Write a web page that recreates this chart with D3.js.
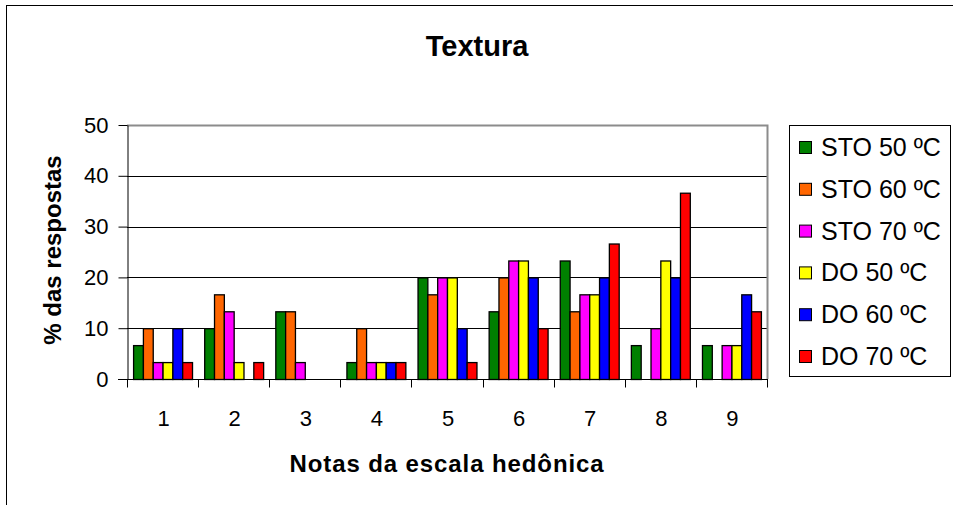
<!DOCTYPE html>
<html>
<head>
<meta charset="utf-8">
<script src="https://cdn.jsdelivr.net/npm/d3@7"></script>
<style>
  html, body { margin: 0; padding: 0; background: #fff; }
  svg { display: block; font-family: "Liberation Sans", Arial, sans-serif; }
</style>
</head>
<body>
<svg id="chart" width="953" height="505"></svg>
<script>
// Hedonic scale scores (1..9) and % of responses per drying treatment
const categories = ["1", "2", "3", "4", "5", "6", "7", "8", "9"];
const seriesNames = ["STO 50 ºC", "STO 60 ºC", "STO 70 ºC", "DO 50 ºC", "DO 60 ºC", "DO 70 ºC"];
const seriesColors = ["#008000", "#FF6600", "#FF00FF", "#FFFF00", "#0000FF", "#FF0000"];
const sto50 = [6.67, 10, 13.33, 3.33, 20, 13.33, 23.33, 6.67, 6.67];
const sto60 = [10, 16.67, 13.33, 10, 16.67, 20, 13.33, 0, 0];
const sto70 = [3.33, 13.33, 3.33, 3.33, 20, 23.33, 16.67, 10, 6.67];
const do50  = [3.33, 3.33, 0, 3.33, 20, 23.33, 16.67, 23.33, 6.67];
const do60  = [10, 0, 0, 3.33, 10, 20, 20, 20, 16.67];
const do70  = [3.33, 3.33, 0, 3.33, 3.33, 10, 26.67, 36.67, 13.33];
const seriesValues = [sto50, sto60, sto70, do50, do60, do70];
const yTicks = [0, 10, 20, 30, 40, 50];

const svg = d3.select("#chart");

// Outer chart frame
svg.append("rect")
  .attr("x", 6.5).attr("y", 5.5)
  .attr("width", 960).attr("height", 520)
  .attr("fill", "none").attr("stroke", "#000").attr("stroke-width", 1);

const plot = { left: 127, right: 767, top: 125, bottom: 379 };

const x0 = d3.scaleBand().domain(categories).range([plot.left, plot.right]).paddingInner(0).paddingOuter(0);
const x1 = d3.scaleBand().domain(seriesNames).range([0, x0.bandwidth()]).paddingOuter(0.62).paddingInner(0);
const y = d3.scaleLinear().domain([0, 50]).range([plot.bottom, plot.top]);

// Gridlines
svg.append("g")
  .selectAll("line")
  .data(yTicks.filter(t => t > 0 && t < 50))
  .join("line")
  .attr("x1", plot.left).attr("x2", plot.right)
  .attr("y1", d => Math.round(y(d)) + 0.5).attr("y2", d => Math.round(y(d)) + 0.5)
  .attr("stroke", "#000").attr("stroke-width", 1);

// Plot frame (top and right)
svg.append("path")
  .attr("d", `M${plot.left},${plot.top + 0.5}H${plot.right + 0.5}V${plot.bottom}`)
  .attr("fill", "none").attr("stroke", "#8c8c8c").attr("stroke-width", 2);

// Bars
const rows = categories.map((c, i) => ({
  cat: c,
  vals: seriesNames.map((s, j) => ({ s, v: seriesValues[j][i], color: seriesColors[j] }))
}));

svg.append("g")
  .selectAll("g")
  .data(rows)
  .join("g")
  .attr("transform", d => `translate(${x0(d.cat)},0)`)
  .selectAll("rect")
  .data(d => d.vals.filter(e => e.v > 0))
  .join("rect")
  .attr("x", d => x1(d.s) + 0.5)
  .attr("y", d => y(d.v) + 0.5)
  .attr("width", x1.bandwidth())
  .attr("height", d => y(0) - y(d.v))
  .attr("fill", d => d.color)
  .attr("stroke", "#000").attr("stroke-width", 1.3);

// Y axis
const yAxis = svg.append("g")
  .attr("transform", `translate(${plot.left + 0.5},0)`)
  .call(d3.axisLeft(y).tickValues(yTicks).tickSize(9).tickSizeOuter(0).tickPadding(10));
yAxis.select(".domain").attr("stroke", "#000");
yAxis.selectAll(".tick line").attr("stroke", "#000");
yAxis.selectAll("text").attr("font-size", 22).attr("fill", "#000")
  .attr("font-family", "Liberation Sans, Arial, sans-serif");

// X axis: ticks at category boundaries
const xAxisG = svg.append("g").attr("transform", `translate(0,${plot.bottom + 0.5})`);
xAxisG.append("line")
  .attr("x1", plot.left - 9).attr("x2", plot.right + 1)
  .attr("stroke", "#000");
const bounds = categories.map(c => x0(c)).concat([plot.right]);
xAxisG.selectAll(".b")
  .data(bounds)
  .join("line")
  .attr("class", "b")
  .attr("x1", d => Math.round(d) + 0.5).attr("x2", d => Math.round(d) + 0.5)
  .attr("y1", 0).attr("y2", 8)
  .attr("stroke", "#000");
xAxisG.selectAll("text")
  .data(categories)
  .join("text")
  .attr("x", d => x0(d) + x0.bandwidth() / 2 + 1)
  .attr("y", 46)
  .attr("text-anchor", "middle")
  .attr("font-size", 22)
  .text(d => d);

// Titles
svg.append("text")
  .attr("x", 477).attr("y", 56)
  .attr("text-anchor", "middle")
  .attr("font-size", 29).attr("font-weight", "bold")
  .text("Textura");

svg.append("text")
  .attr("x", 447).attr("y", 472)
  .attr("text-anchor", "middle")
  .attr("font-size", 24).attr("font-weight", "bold")
  .attr("letter-spacing", 0.9)
  .text("Notas da escala hedônica");

svg.append("text")
  .attr("transform", "translate(61,250) rotate(-90)")
  .attr("text-anchor", "middle")
  .attr("font-size", 24).attr("font-weight", "bold")
  .text("% das respostas");

// Legend
const legend = svg.append("g");
legend.append("rect")
  .attr("x", 789.5).attr("y", 125.5)
  .attr("width", 161).attr("height", 251)
  .attr("fill", "#fff").attr("stroke", "#000").attr("stroke-width", 1);

const items = legend.selectAll("g.item")
  .data(seriesNames.map((s, i) => ({ s, color: seriesColors[i] })))
  .join("g")
  .attr("class", "item")
  .attr("transform", (d, i) => `translate(0,${147 + i * 41.8})`);
items.append("rect")
  .attr("x", 799.5).attr("y", -5.5)
  .attr("width", 12).attr("height", 12)
  .attr("fill", d => d.color).attr("stroke", "#000").attr("stroke-width", 1);
items.append("text")
  .attr("x", 821).attr("y", 9)
  .attr("font-size", 25)
  .text(d => d.s);
</script>
</body>
</html>
